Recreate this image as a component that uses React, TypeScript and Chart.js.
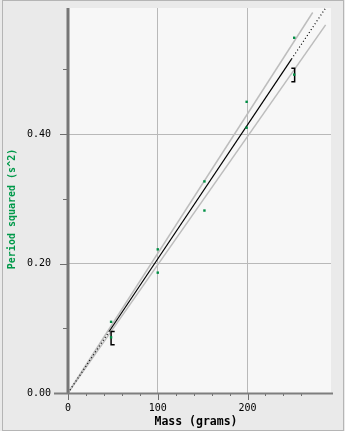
import React, { useEffect, useRef } from "react";
import { Chart, registerables } from "chart.js";

Chart.register(...registerables);

// Measured data (mass in grams, period squared in s^2)
const masses = [48, 100, 152, 199, 252];
const trial1 = [0.110, 0.222, 0.327, 0.450, 0.549];
const trial2 = [0.086, 0.186, 0.282, 0.410, 0.492];

// Fit line pieces
const fitSolidX = [46, 249];
const fitSolidY = [0.0954, 0.516];
const fitDotLowX = [0, 46];
const fitDotLowY = [0, 0.0954];
const fitDotHighX = [249, 287];
const fitDotHighY = [0.516, 0.595];

// Confidence band lines
const upperBandX = [0, 272.6];
const upperBandY = [0, 0.588];
const lowerBandX = [0, 287];
const lowerBandY = [0, 0.569];

// Range brackets
const leftBracketX = [52, 48, 48, 52];
const leftBracketY = [0.0951, 0.0951, 0.0746, 0.0746];
const rightBracketX = [248.8, 252.5, 252.5, 248.8];
const rightBracketY = [0.502, 0.502, 0.481, 0.481];

// Axes
const xMin = 0;
const xMax = 293;
const xStep = 20;
const xLabelEvery = 100;
const yMin = 0;
const yMax = 0.595;
const yStep = 0.1;
const yLabelEvery = 0.2;

const xTitle = "Mass (grams)";
const yTitle = "Period squared (s^2)";

const pts = (xs: number[], ys: number[]) => xs.map((x, i) => ({ x, y: ys[i] }));

const isMult = (v: number, step: number) => {
  const r = v / step;
  return Math.abs(r - Math.round(r)) < 1e-6;
};

const decorPlugin = {
  id: "decor",
  beforeDraw(chart: any) {
    const { ctx, chartArea: a, width, height } = chart;
    ctx.save();
    ctx.fillStyle = "#eaeaea";
    ctx.fillRect(0, 0, width, height);
    ctx.strokeStyle = "#b5b5b5";
    ctx.lineWidth = 1;
    ctx.strokeRect(2.5, 0.5, width - 4, height - 1);
    ctx.fillStyle = "#f7f7f7";
    ctx.fillRect(a.left, a.top, a.right - a.left, a.bottom - a.top);
    ctx.restore();
  },
  afterDraw(chart: any) {
    const { ctx, chartArea: a } = chart;
    const xs = chart.scales.x;
    const ys = chart.scales.y;
    ctx.save();
    // ticks
    ctx.strokeStyle = "#6e6e6e";
    ctx.lineWidth = 1;
    ys.ticks.forEach((t: any) => {
      if (!isMult(t.value, yStep)) return;
      const py = Math.round(ys.getPixelForValue(t.value)) + 0.5;
      const major = isMult(t.value, yLabelEvery);
      ctx.beginPath();
      ctx.moveTo(a.left - (major ? 8 : 5), py);
      ctx.lineTo(a.left, py);
      ctx.stroke();
    });
    xs.ticks.forEach((t: any) => {
      if (!isMult(t.value, xStep)) return;
      const px = Math.round(xs.getPixelForValue(t.value)) + 0.5;
      const major = isMult(t.value, xLabelEvery);
      ctx.beginPath();
      ctx.moveTo(px, a.bottom);
      ctx.lineTo(px, a.bottom + (major ? 7 : 3));
      ctx.stroke();
    });
    // axis lines
    ctx.strokeStyle = "#767676";
    ctx.lineWidth = 3;
    ctx.beginPath();
    ctx.moveTo(a.left, a.top);
    ctx.lineTo(a.left, a.bottom + 1);
    ctx.stroke();
    ctx.strokeStyle = "#7e7e7e";
    ctx.lineWidth = 2;
    ctx.beginPath();
    ctx.moveTo(a.left - 14, a.bottom + 0.5);
    ctx.lineTo(a.right + 2, a.bottom + 0.5);
    ctx.stroke();
    // titles
    ctx.font = "bold 11.5px 'DejaVu Sans Mono', monospace";
    ctx.fillStyle = "#000000";
    ctx.textAlign = "center";
    ctx.textBaseline = "middle";
    ctx.fillText(xTitle, 196, 422);
    ctx.translate(12, 209);
    ctx.rotate(-Math.PI / 2);
    ctx.font = "bold 10px 'DejaVu Sans Mono', monospace";
    ctx.fillStyle = "#00994a";
    ctx.fillText(yTitle, 0, 0);
    ctx.restore();
  },
};

export default function App() {
  const ref = useRef<HTMLCanvasElement>(null);
  useEffect(() => {
    if (!ref.current) return;
    const gridColorX = (c: any) =>
      c.tick && c.tick.value > 0 && isMult(c.tick.value, xLabelEvery) ? "#b9b9b9" : "transparent";
    const gridColorY = (c: any) =>
      c.tick && c.tick.value > 0 && isMult(c.tick.value, yLabelEvery) ? "#b9b9b9" : "transparent";
    const tickFont = { family: "'DejaVu Sans Mono', monospace", size: 10 };
    const chart = new Chart(ref.current, {
      type: "scatter",
      data: {
        datasets: [
          {
            data: [...pts(masses, trial1), ...pts(masses, trial2)],
            showLine: false,
            pointStyle: "rect",
            pointRadius: 1.7,
            pointBorderWidth: 0,
            pointBackgroundColor: "#008f45",
            backgroundColor: "#008f45",
            order: 0,
          },
          {
            data: pts(fitSolidX, fitSolidY),
            showLine: true,
            borderColor: "#000000",
            borderWidth: 1.2,
            pointRadius: 0,
            order: 1,
          },
          {
            data: pts(fitDotLowX, fitDotLowY),
            showLine: true,
            borderColor: "#000000",
            borderWidth: 1.2,
            borderDash: [1, 2.5],
            pointRadius: 0,
            order: 1,
          },
          {
            data: pts(fitDotHighX, fitDotHighY),
            showLine: true,
            borderColor: "#000000",
            borderWidth: 1.2,
            borderDash: [1, 2.5],
            pointRadius: 0,
            order: 1,
          },
          {
            data: pts(upperBandX, upperBandY),
            showLine: true,
            borderColor: "#bdbdbd",
            borderWidth: 1.5,
            pointRadius: 0,
            order: 2,
          },
          {
            data: pts(lowerBandX, lowerBandY),
            showLine: true,
            borderColor: "#bdbdbd",
            borderWidth: 1.5,
            pointRadius: 0,
            order: 2,
          },
          {
            data: pts(leftBracketX, leftBracketY),
            showLine: true,
            borderColor: "#000000",
            borderWidth: 1.5,
            pointRadius: 0,
            order: 1,
          },
          {
            data: pts(rightBracketX, rightBracketY),
            showLine: true,
            borderColor: "#000000",
            borderWidth: 1.5,
            pointRadius: 0,
            order: 1,
          },
        ],
      },
      options: {
        animation: false,
        responsive: false,
        events: [],
        layout: { padding: { left: 0, top: 8, right: 14, bottom: 0 } },
        plugins: { legend: { display: false }, tooltip: { enabled: false } },
        scales: {
          x: {
            type: "linear",
            min: xMin,
            max: xMax,
            afterFit: (s: any) => {
              s.height = 38;
              s.paddingLeft = 0;
              s.paddingRight = 0;
            },
            border: { display: false },
            grid: { color: gridColorX, tickColor: "transparent", tickLength: 7, lineWidth: 1 },
            ticks: {
              stepSize: xStep,
              autoSkip: false,
              maxRotation: 0,
              padding: 2,
              color: "#000000",
              font: tickFont,
              callback: (v: any) => (isMult(Number(v), xLabelEvery) ? String(Math.round(Number(v))) : ""),
            },
          },
          y: {
            type: "linear",
            min: yMin,
            max: yMax,
            afterFit: (s: any) => {
              s.width = 68;
              s.paddingTop = 0;
              s.paddingBottom = 0;
            },
            border: { display: false },
            grid: { color: gridColorY, tickColor: "transparent", tickLength: 8, lineWidth: 1 },
            ticks: {
              stepSize: yStep,
              autoSkip: false,
              padding: 9,
              color: "#000000",
              font: tickFont,
              callback: (v: any) => (isMult(Number(v), yLabelEvery) ? Number(v).toFixed(2) : ""),
            },
          },
        },
      },
      plugins: [decorPlugin],
    } as any);
    return () => chart.destroy();
  }, []);
  return (
    <div style={{ position: "absolute", left: 0, top: 0, width: 345, height: 431 }}>
      <canvas ref={ref} width={345} height={431} style={{ display: "block" }} />
    </div>
  );
}
